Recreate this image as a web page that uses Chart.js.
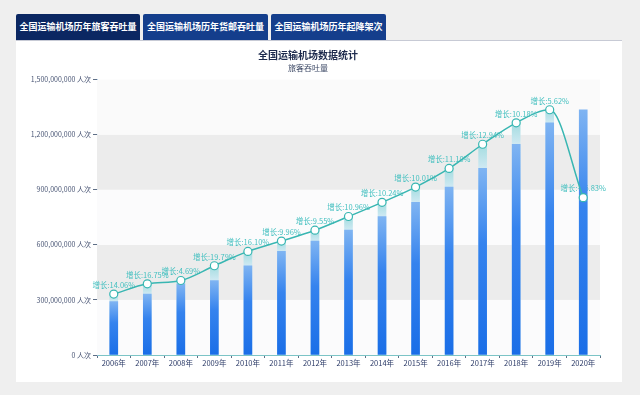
<!DOCTYPE html>
<html>
<head>
<meta charset="utf-8">
<script src="https://cdn.jsdelivr.net/npm/chart.js@4"></script>
<style>
  html, body { margin: 0; padding: 0; }
  body { width: 640px; height: 395px; background: #efefef; position: relative; overflow: hidden;
         font-family: "Noto Sans CJK SC", "Noto Sans", sans-serif; }
  .tab { position: absolute; top: 14px; height: 26px; line-height: 26px; color: #fff; font-size: 9px;
         font-weight: bold; text-align: center; border-radius: 2px 2px 0 0; background: #143e8c; }
  .tab.active { background: #0b2762; }
  #card { position: absolute; left: 16px; top: 40px; width: 606px; height: 342px; background: #fff;
          border-top: 1px solid #c7cad5; box-sizing: border-box; }
  #chart { position: absolute; left: 0; top: -1px; }
</style>
</head>
<body>
<div class="tab active" style="left:16px;width:124px;">全国运输机场历年旅客吞吐量</div>
<div class="tab" style="left:143px;width:125px;">全国运输机场历年货邮吞吐量</div>
<div class="tab" style="left:271px;width:115px;">全国运输机场历年起降架次</div>
<div id="card"><canvas id="chart" width="606" height="342"></canvas></div>
<script>
const years = ["2006年", "2007年", "2008年", "2009年", "2010年", "2011年", "2012年", "2013年",
  "2014年", "2015年", "2016年", "2017年", "2018年", "2019年", "2020年"];
// passenger throughput (人次)
const passengers = [331970000, 387580000, 405760000, 486060000, 564310000, 620530000, 679770000,
  754310000, 831530000, 914770000, 1016360000, 1147870000, 1264690000, 1335800000, 857160000];
// previous year's throughput (blue part of each bar)
const lastYear = [291050000, 331970000, 387580000, 405760000, 486060000, 564310000, 620530000,
  679770000, 754310000, 831530000, 914770000, 1016360000, 1147870000, 1264690000, 1335800000];
const growth = ["14.06", "16.75", "4.69", "19.79", "16.10", "9.96", "9.55", "10.96", "10.24",
  "10.01", "11.10", "12.94", "10.18", "5.62", "-35.83"];
const yTicks = [0, 300000000, 600000000, 900000000, 1200000000, 1500000000];
const bandColors = ["#fbfbfc", "#ececec", "#fbfbfc", "#ececec", "#fafafa"];

const cjk = '"Noto Sans CJK SC", "Noto Sans", sans-serif';
const teal = "#38b6b2";

function blueFill(ctx) {
  const chart = ctx.chart;
  if (!chart.chartArea || ctx.type !== "data") return "#1f74ea";
  const y = chart.scales.y;
  const top = y.getPixelForValue(ctx.raw);
  const bottom = y.getPixelForValue(0);
  const g = chart.ctx.createLinearGradient(0, top, 0, bottom);
  g.addColorStop(0, "#7fb4f2");
  g.addColorStop(0.4, "#3583ee");
  g.addColorStop(1, "#1a6ee7");
  return g;
}

function lightFill(ctx) {
  const chart = ctx.chart;
  if (!chart.chartArea || ctx.type !== "data") return "#b4e2e5";
  const y = chart.scales.y;
  const top = y.getPixelForValue(ctx.raw);
  const bottom = y.getPixelForValue(lastYear[ctx.dataIndex]);
  const g = chart.ctx.createLinearGradient(0, top, 0, Math.max(bottom, top + 1));
  g.addColorStop(0, "#a3dcdf");
  g.addColorStop(1, "#cfe9f3");
  return g;
}

const bands = {
  id: "bands",
  beforeDatasetsDraw(chart) {
    const { ctx, chartArea, scales } = chart;
    ctx.save();
    for (let i = 0; i < yTicks.length - 1; i++) {
      const top = scales.y.getPixelForValue(yTicks[i + 1]);
      const bottom = scales.y.getPixelForValue(yTicks[i]);
      ctx.fillStyle = bandColors[i];
      ctx.fillRect(chartArea.left, top, chartArea.right - chartArea.left, bottom - top);
    }
    ctx.restore();
  }
};

const growthLabels = {
  id: "growthLabels",
  beforeDatasetsDraw(chart) {
    const meta = chart.getDatasetMeta(0);
    const ctx = chart.ctx;
    ctx.save();
    ctx.font = "7.5px " + cjk;
    ctx.fillStyle = "#45c0c0";
    ctx.textAlign = "center";
    ctx.textBaseline = "middle";
    meta.data.forEach((pt, i) => {
      ctx.fillText("增长:" + growth[i] + "%", pt.x, pt.y - 9);
    });
    ctx.restore();
  }
};

new Chart(document.getElementById("chart"), {
  type: "bar",
  data: {
    labels: years,
    datasets: [
      {
        type: "line",
        data: passengers,
        borderColor: teal,
        borderWidth: 1.5,
        cubicInterpolationMode: "monotone",
        pointRadius: 4,
        pointBorderWidth: 1.2,
        pointBackgroundColor: "#fff",
        pointBorderColor: teal,
        order: 1
      },
      {
        data: lastYear,
        backgroundColor: blueFill,
        barThickness: 8,
        grouped: false,
        order: 2
      },
      {
        data: passengers,
        backgroundColor: lightFill,
        barThickness: 8,
        grouped: false,
        order: 3
      }
    ]
  },
  plugins: [bands, growthLabels],
  options: {
    responsive: false,
    animation: false,
    layout: { padding: { left: 0, right: 22, top: 0, bottom: 0 } },
    plugins: {
      legend: { display: false },
      tooltip: { enabled: false },
      title: {
        display: true,
        text: "全国运输机场数据统计",
        color: "#1d2a4d",
        font: { family: cjk, size: 10, weight: "bold" },
        padding: { top: 9, bottom: 1 }
      },
      subtitle: {
        display: true,
        text: "旅客吞吐量",
        color: "#3a4663",
        font: { family: cjk, size: 8 },
        padding: { top: 1, bottom: 7 }
      }
    },
    scales: {
      x: {
        offset: true,
        border: { color: "#7cc4c6", width: 1 },
        grid: { offset: true, drawOnChartArea: false, tickLength: 3, color: "#5f6f86" },
        ticks: { color: "#2b3a67", padding: 1, font: { family: cjk, size: 7.5 }, maxRotation: 0 },
        afterFit(s) { s.height = 27; }
      },
      y: {
        min: 0,
        max: 1500000000,
        border: { color: "#8db7dc", width: 1 },
        grid: { drawOnChartArea: false, tickLength: 4, color: "#5f6f86" },
        ticks: {
          stepSize: 300000000,
          color: "#4a5675",
          padding: 2,
          font: { family: cjk, size: 7 },
          callback: (v) => v.toLocaleString("en-US") + " 人次"
        },
        afterFit(s) { s.width = 81; }
      }
    }
  }
});
</script>
</body>
</html>
